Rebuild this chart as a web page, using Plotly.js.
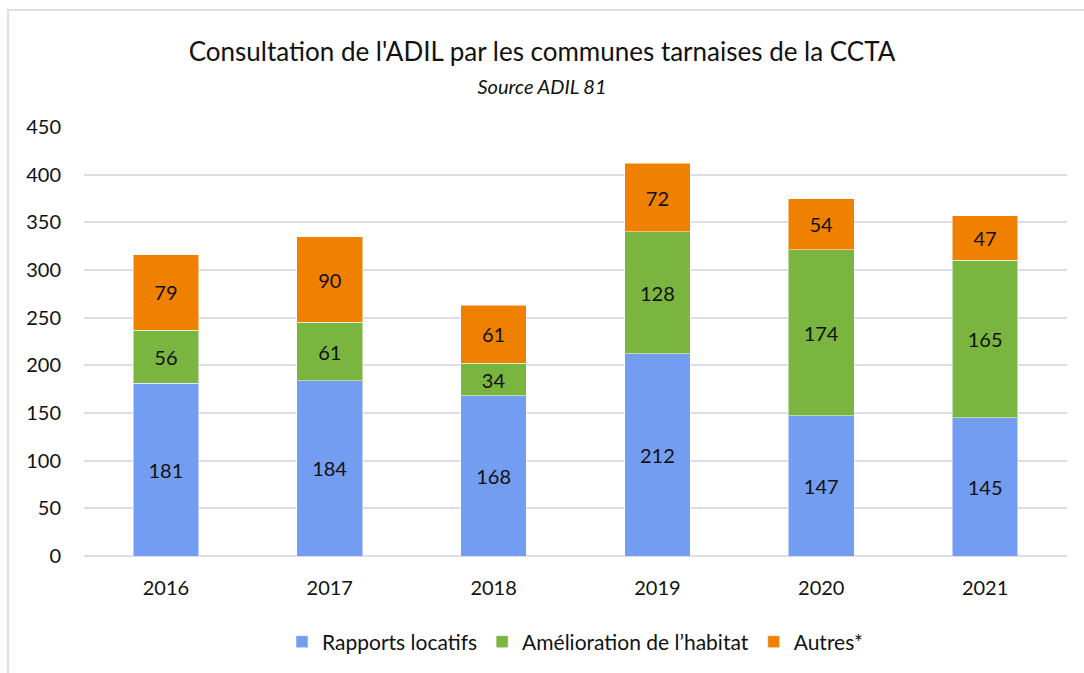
<!DOCTYPE html>
<html>
<head>
<meta charset="utf-8">
<script src="https://cdn.plot.ly/plotly-3.0.1.min.js"></script>
<style>
  body { margin: 0; background: #ffffff; overflow: hidden; }
  #chart { width: 1084px; height: 673px; }
  #frame { position: absolute; left: 7px; top: 9px; width: 1200px; height: 800px;
           border: 2px solid #dcdcec; pointer-events: none; }
</style>
</head>
<body>
<div id="chart"></div>
<div id="frame"></div>
<script>
// Values
const years = ['2016', '2017', '2018', '2019', '2020', '2021'];
const rapportsLocatifs = [181, 184, 168, 212, 147, 145];
const ameliorationHabitat = [56, 61, 34, 128, 174, 165];
const autres = [79, 90, 61, 72, 54, 47];

const labelFont = { family: 'Lato, "Open Sans", sans-serif', size: 20, color: '#111111' };

function makeSeries(name, values, color) {
    return {
        x: years,
        y: values,
        name: name,
        type: 'bar',
        marker: { color: color, line: { color: 'rgba(255,255,255,0.5)', width: 1 } },
        text: values.map(String),
        textposition: 'inside',
        insidetextanchor: 'middle',
        constraintext: 'none',
        textfont: labelFont,
        hoverinfo: 'x+y+name'
    };
}

const data = [
    makeSeries('Rapports locatifs', rapportsLocatifs, '#739df0'),
    makeSeries('Amélioration de l\u2019habitat', ameliorationHabitat, '#7ab540'),
    makeSeries('Autres*', autres, '#f08000')
];

const layout = {
    barmode: 'stack',
    bargap: 0.6,
    width: 1084,
    height: 673,
    margin: { l: 84, r: 17, t: 127, b: 116, pad: 0 },
    paper_bgcolor: '#ffffff',
    plot_bgcolor: '#ffffff',
    font: { family: 'Lato, "Open Sans", sans-serif', size: 20, color: '#111111' },
    title: {
        text: 'Consultation de l\'ADIL par les communes tarnaises de la CCTA<br><span style="font-size:20px"><i>Source ADIL 81</i></span>',
        font: { size: 26, color: '#111111' },
        x: 0.5,
        xanchor: 'center',
        y: 0.91,
        yanchor: 'top'
    },
    xaxis: {
        type: 'category',
        showgrid: false,
        showline: false,
        ticks: '',
        ticklabelstandoff: 18,
        tickfont: { size: 20 }
    },
    yaxis: {
        range: [0, 450],
        dtick: 50,
        showgrid: true,
        gridcolor: '#dcdcec',
        gridwidth: 2,
        zeroline: true,
        zerolinecolor: '#dcdcec',
        zerolinewidth: 2,
        showline: false,
        ticks: '',
        ticklabelstandoff: 22,
        tickfont: { size: 20 }
    },
    legend: {
        orientation: 'h',
        x: 0.5,
        xanchor: 'center',
        y: -0.15,
        yanchor: 'top',
        font: { size: 21 },
        itemwidth: 30,
        traceorder: 'normal'
    },
    showlegend: true
};

Plotly.newPlot('chart', data, layout, { displayModeBar: false });
</script>
</body>
</html>
